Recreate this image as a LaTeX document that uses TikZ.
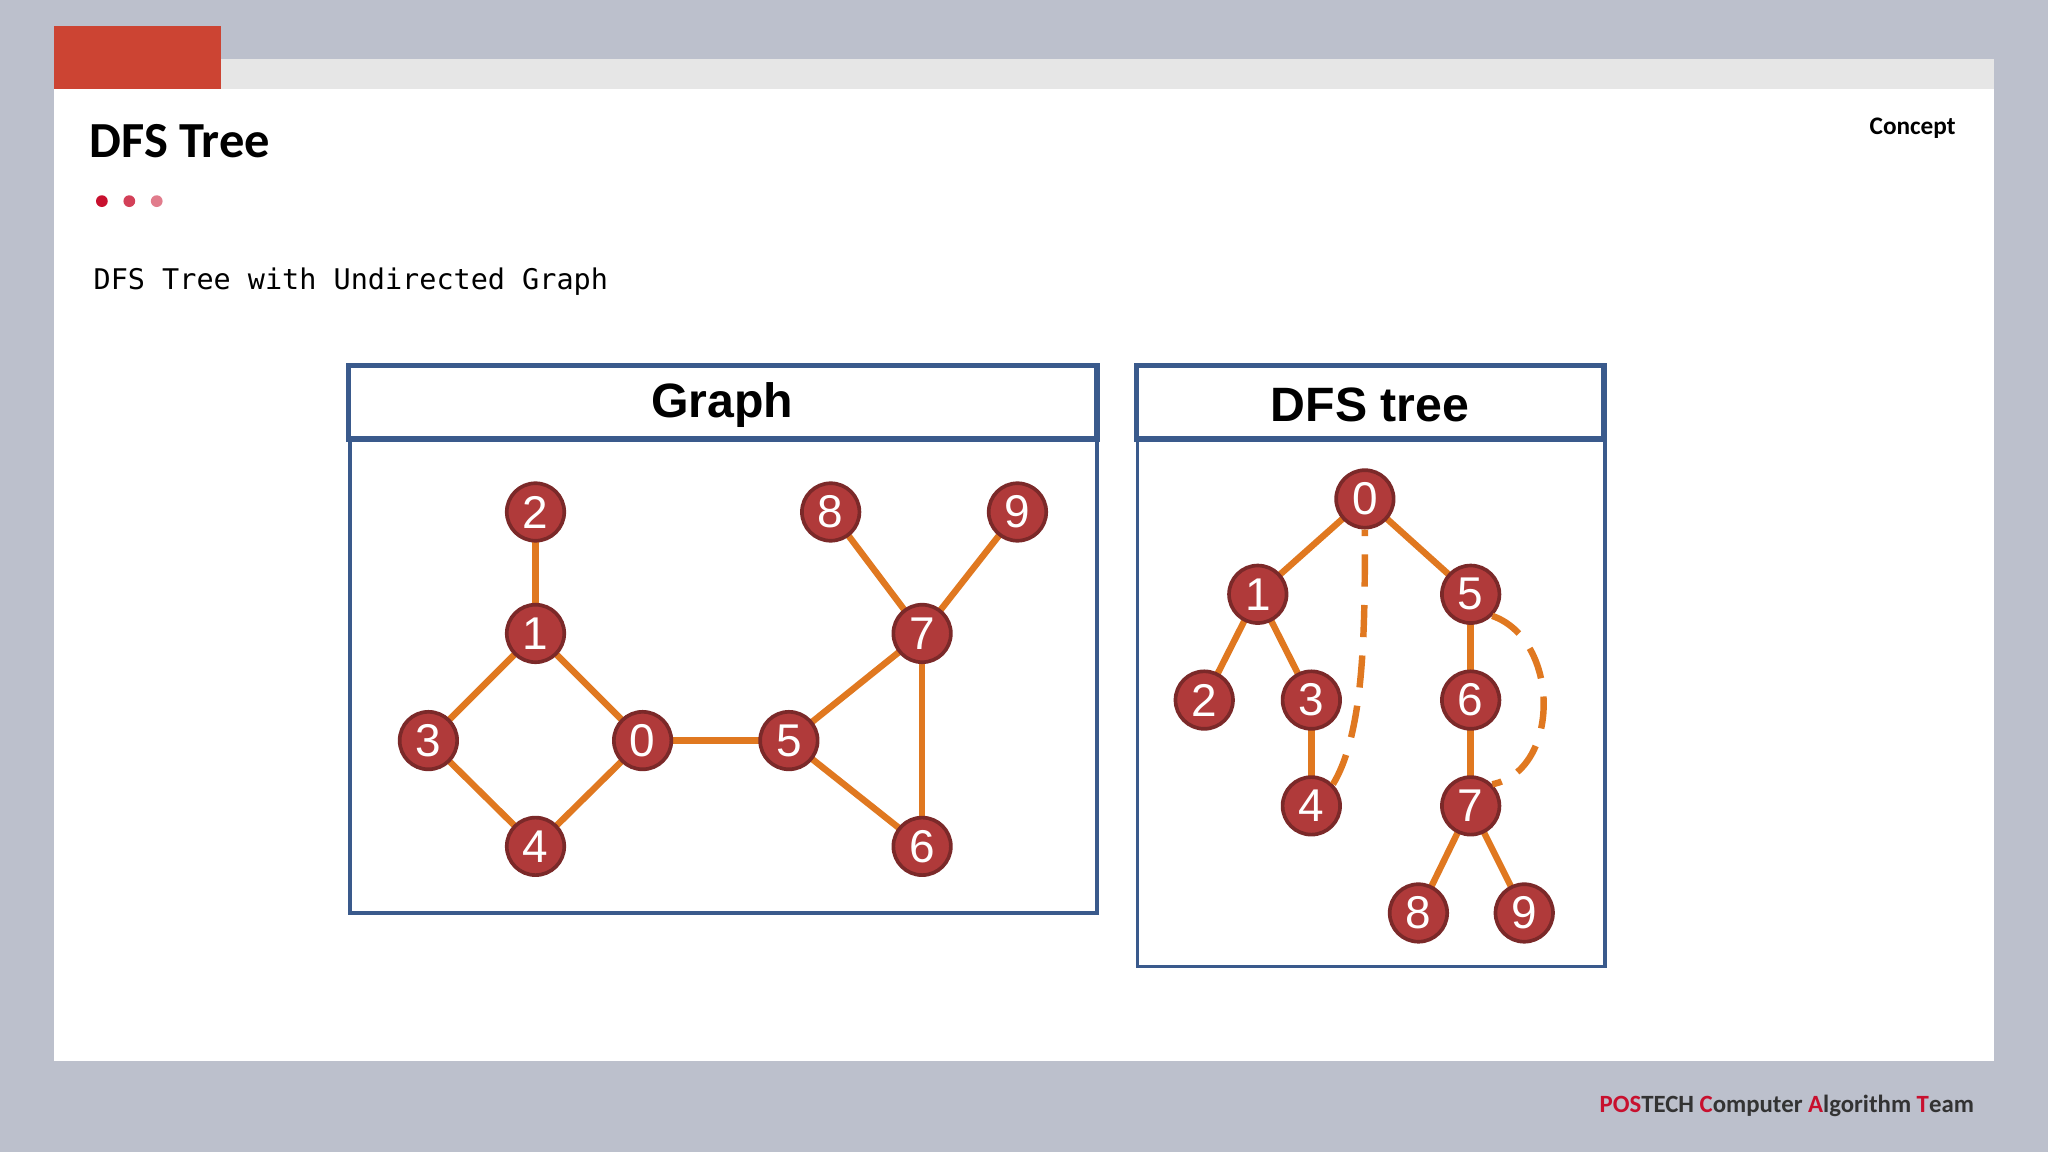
\documentclass[tikz,border=0pt]{standalone}
\usepackage{fontspec}
\setmainfont{Carlito}
\setmonofont{DejaVu Sans Mono}
\newfontfamily\headfont{Liberation Sans}
\usetikzlibrary{backgrounds}
\definecolor{slidebg}{HTML}{BCC0CC}
\definecolor{topstrip}{HTML}{E6E6E6}
\definecolor{postred}{HTML}{C8102E}
\definecolor{tabred}{HTML}{CC4433}
\definecolor{boxblue}{HTML}{3A5A8C}
\definecolor{vtxred}{HTML}{B03A3A}
\definecolor{edgeorange}{HTML}{E07820}
\begin{document}
\begin{tikzpicture}[x=0.01cm,y=-0.01cm,
		vtx/.style={circle,draw=vtxred!70!black,line width=0.8pt,fill=vtxred,minimum size=0.44cm,inner sep=0pt,text=white,font=\headfont\fontsize{10}{10}\selectfont},
		tedge/.style={draw=edgeorange,line width=1.4pt},
		backedge/.style={draw=edgeorange,line width=1.4pt,dash pattern=on 7pt off 4pt},
		boxhead/.style={draw=boxblue,line width=1.2pt},
		boxbody/.style={draw=boxblue,line width=0.8pt},
		headtext/.style={font=\headfont\bfseries\fontsize{10.5}{10.5}\selectfont}]
		% slide
		\useasboundingbox (0,0) rectangle (1568,882);
		\begin{scope}[on background layer]
		\fill[slidebg] (0,0) rectangle (1568,882);
		\fill[topstrip] (41,45) rectangle (1527,68);
		\fill[white] (41,68) rectangle (1527,812);
		\fill[tabred] (41,20) rectangle (169,68);
		\end{scope}
		\node[anchor=west,inner sep=0pt,font=\bfseries\fontsize{11}{11}\selectfont] (title) at (68,108) {DFS Tree};
		\node[anchor=east,inner sep=0pt,font=\bfseries\fontsize{5.5}{5.5}\selectfont] (concept) at (1498,98) {Concept};
		\fill[postred] (78,154) circle (4.5);
		\fill[postred!80!white] (99,154) circle (4.5);
		\fill[postred!55!white] (120,154) circle (4.5);
		\node[anchor=west,inner sep=0pt,font=\ttfamily\fontsize{6.2}{6.2}\selectfont] (subtitle) at (71,216) {DFS Tree with Undirected Graph};
		\node[anchor=east,inner sep=0pt,font=\bfseries\fontsize{5.4}{5.4}\selectfont] (footer) at (1512,847)
			{\textcolor{postred}{POS}\textcolor{black!80}{TECH} \textcolor{postred}{C}\textcolor{black!80}{omputer} \textcolor{postred}{A}\textcolor{black!80}{lgorithm} \textcolor{postred}{T}\textcolor{black!80}{eam}};
		% boxes
		\draw[boxbody] (268,336) rectangle (840,699);
		\draw[boxhead,fill=white] (267,280) rectangle (840,336);
		\node[headtext] (ghead) at (553,310) {Graph};
		\draw[boxbody] (871,336) rectangle (1229,740);
		\draw[boxhead,fill=white] (870,280) rectangle (1228,336);
		\node[headtext] (thead) at (1049,310) {DFS tree};
		% graph
		\node[vtx] (g2) at (410,392) {2};
		\node[vtx] (g1) at (410,485) {1};
		\node[vtx] (g3) at (328,567) {3};
		\node[vtx] (g0) at (492,567) {0};
		\node[vtx] (g4) at (410,648) {4};
		\node[vtx] (g5) at (604,567) {5};
		\node[vtx] (g7) at (706,485) {7};
		\node[vtx] (g8) at (636,392) {8};
		\node[vtx] (g9) at (779,392) {9};
		\node[vtx] (g6) at (706,648) {6};
		% tree
		\node[vtx] (t0) at (1045,382) {0};
		\node[vtx] (t1) at (963,455) {1};
		\node[vtx] (t5) at (1126,455) {5};
		\node[vtx] (t2) at (922,536) {2};
		\node[vtx] (t3) at (1004,536) {3};
		\node[vtx] (t4) at (1004,617) {4};
		\node[vtx] (t6) at (1126,536) {6};
		\node[vtx] (t7) at (1126,617) {7};
		\node[vtx] (t8) at (1086,699) {8};
		\node[vtx] (t9) at (1167,699) {9};
		\begin{scope}[on background layer]
		\foreach \a/\b in {g2/g1,g1/g3,g1/g0,g3/g4,g4/g0,g0/g5,g5/g7,g5/g6,g7/g6,g7/g8,g7/g9}
			\draw[tedge] (\a.center) -- (\b.center);
		\foreach \a/\b in {t0/t1,t0/t5,t1/t2,t1/t3,t3/t4,t5/t6,t6/t7,t7/t8,t7/t9}
			\draw[tedge] (\a.center) -- (\b.center);
		\end{scope}
		\draw[backedge] (t4.north east) .. controls (1045,560) and (1045,480) .. (t0.south);
		\draw[backedge] (t5.south east) .. controls (1195,490) and (1195,590) .. (t7.north east);
	\end{tikzpicture}
\end{document}
